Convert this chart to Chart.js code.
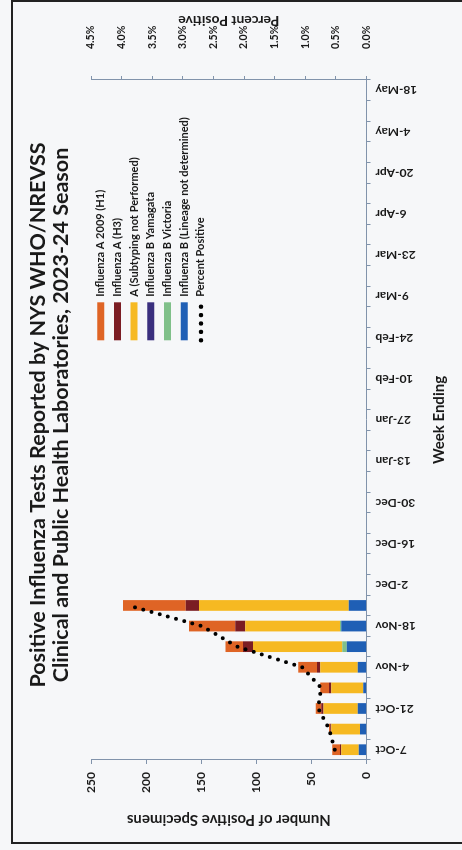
<!DOCTYPE html>
<html>
<head>
<meta charset="utf-8">
<script src="https://cdn.jsdelivr.net/npm/chart.js@4.4.1/dist/chart.umd.min.js"></script>
<style>
  html, body { margin: 0; padding: 0; width: 462px; height: 850px; overflow: hidden; background: #f6f7f9; }
  /* the landscape page is turned a quarter turn counter-clockwise */
  #page { position: absolute; left: 0; top: 0; width: 850px; height: 462px;
          transform-origin: 0 0; transform: translate(0px, 850px) rotate(-90deg); background: #f6f7f9; }
  #frame { position: absolute; left: 6px; top: 11px; width: 844px; height: 470px;
           border: 2px solid #222; box-sizing: border-box; }
  #chart { position: absolute; left: 0; top: 0; }
</style>
</head>
<body>
<div id="page">
  <div id="frame"></div>
  <canvas id="chart" width="850" height="462"></canvas>
</div>
<script>
// Week-ending dates, 2023-24 season
const weekLabels = ['7-Oct','14-Oct','21-Oct','28-Oct','4-Nov','11-Nov','18-Nov','25-Nov',
  '2-Dec','9-Dec','16-Dec','23-Dec','30-Dec','6-Jan','13-Jan','20-Jan','27-Jan',
  '3-Feb','10-Feb','17-Feb','24-Feb','2-Mar','9-Mar','16-Mar','23-Mar','30-Mar',
  '6-Apr','13-Apr','20-Apr','27-Apr','4-May','11-May','18-May'];

// Positive specimens per week (weeks reported so far)
const fluA_H1       = [7, 1, 5, 8, 17, 16, 42, 57];
const fluA_H3       = [1, 1, 2, 2, 3, 9, 9, 12];
const fluA_notTyped = [16, 26, 31, 29, 34, 81, 86, 136];
const fluB_Yamagata = [0, 0, 0, 0, 0, 0, 0, 0];
const fluB_Victoria = [0, 0, 0, 0, 0, 4, 1, 0];
const fluB_noLineage = [7, 6, 8, 3, 8, 18, 23, 16];
// Percent of specimens testing positive
const percentPositive = [0.52, 0.61, 0.79, 0.74, 1.05, 2.11, 2.69, 3.89];

// Axis ranges
const countMax = 250, countStep = 50;
const pctMax = 4.5, pctStep = 0.5;

const axisColor = '#8193ab';
const ink = '#1a1a1a';
const fam = 'Lato, "Open Sans", sans-serif';

const fill = arr => weekLabels.map((_, i) => (i < arr.length ? arr[i] : null));

// Draws the secondary axis title reading bottom-to-top
const sideTitle = {
  id: 'sideTitle',
  afterDraw(chart, args, opts) {
    const s = chart.scales.y2;
    const ctx = chart.ctx;
    ctx.save();
    ctx.font = 'bold ' + opts.size + 'px ' + fam;
    ctx.fillStyle = ink;
    ctx.textAlign = 'center';
    ctx.textBaseline = 'middle';
    ctx.translate(s.right - opts.offset, (s.top + s.bottom) / 2);
    ctx.rotate(-Math.PI / 2);
    ctx.fillText(opts.text, 0, 0);
    ctx.restore();
  }
};

// Moves the legend to its spot inside the plot area and nudges the title block
const placeLegend = {
  id: 'placeLegend',
  afterLayout(chart, args, opts) {
    const lg = chart.legend;
    const w = lg.width, h = lg.height;
    lg.left = chart.chartArea.left + opts.dx;
    lg.top = chart.chartArea.top + opts.dy;
    lg.right = lg.left + w;
    lg.bottom = lg.top + h;
    const tb = chart.titleBlock;
    tb.left += opts.titleShift;
    tb.right += opts.titleShift;
  }
};

Chart.defaults.font.family = fam;
Chart.defaults.font.weight = 'bold';
Chart.defaults.color = ink;

new Chart(document.getElementById('chart'), {
  type: 'bar',
  data: {
    labels: weekLabels,
    datasets: [
      { type: 'line', label: 'Percent Positive', data: fill(percentPositive), yAxisID: 'y2',
        borderColor: '#000', backgroundColor: '#000', borderWidth: 4,
        borderDash: [0, 8.5], borderCapStyle: 'round', pointRadius: 0, tension: 0 },
      { label: 'Influenza B (Lineage not determined)', data: fill(fluB_noLineage), backgroundColor: '#1f5fb5' },
      { label: 'Influenza B Victoria', data: fill(fluB_Victoria), backgroundColor: '#80c08a' },
      { label: 'Influenza B Yamagata', data: fill(fluB_Yamagata), backgroundColor: '#3a2f7e' },
      { label: 'A (Subtyping not Performed)', data: fill(fluA_notTyped), backgroundColor: '#f6b922' },
      { label: 'Influenza A (H3)', data: fill(fluA_H3), backgroundColor: '#7b1d23' },
      { label: 'Influenza A 2009 (H1)', data: fill(fluA_H1), backgroundColor: '#df6425' }
    ]
  },
  options: {
    responsive: false,
    animation: false,
    layout: { padding: 0 },
    datasets: { bar: { categoryPercentage: 1, barPercentage: 0.52, yAxisID: 'y' } },
    scales: {
      x: {
        stacked: true,
        grid: { offset: true, drawOnChartArea: false, tickLength: 4, color: axisColor },
        border: { color: axisColor, width: 1 },
        ticks: {
          autoSkip: false, minRotation: 90, maxRotation: 90, padding: 5,
          font: { size: 12 },
          callback: (v, i) => (i % 2 === 0 ? weekLabels[i] : '')
        },
        title: { display: true, text: 'Week Ending', font: { size: 15 }, padding: { top: 0, bottom: 14 } },
        afterFit: s => { s.height = 95.5; }
      },
      y: {
        position: 'left', stacked: true, min: 0, max: countMax,
        grid: { drawOnChartArea: false, tickLength: 4, color: axisColor },
        border: { color: axisColor, width: 1 },
        ticks: { stepSize: countStep, padding: 8, font: { size: 12 } },
        title: { display: true, text: 'Number of Positive Specimens', font: { size: 15 }, padding: { top: 21, bottom: 0 } },
        afterFit: s => { s.width = 90; }
      },
      y2: {
        position: 'right', min: 0, max: pctMax,
        grid: { drawOnChartArea: false, tickLength: 4, color: axisColor },
        border: { color: axisColor, width: 1 },
        ticks: { stepSize: pctStep, padding: 27, font: { size: 10.5 }, callback: v => v.toFixed(1) + '%' },
        afterFit: s => { s.width = 80; }
      }
    },
    plugins: {
      title: {
        display: true,
        text: ['Positive Influenza Tests Reported by NYS WHO/NREVSS',
               'Clinical and Public Health Laboratories, 2023-24 Season'],
        font: { size: 21.5, lineHeight: 1.07 },
        color: ink,
        padding: { top: 27, bottom: 18 }
      },
      legend: {
        position: 'chartArea',
        align: 'start',
        reverse: true,
        labels: {
          usePointStyle: true, pointStyleWidth: 38, boxHeight: 7, padding: 5.7,
          font: { size: 11 }, color: ink,
          generateLabels(chart) {
            const items = Chart.defaults.plugins.legend.labels.generateLabels(chart);
            items.forEach(it => {
              const ds = chart.data.datasets[it.datasetIndex];
              if (ds.type === 'line') {
                Object.assign(it, { pointStyle: 'line', lineWidth: 4.5, lineDash: [0, 8.4],
                  lineCap: 'round', strokeStyle: '#000', fillStyle: '#000' });
              } else {
                Object.assign(it, { pointStyle: 'rect', lineWidth: 0 });
              }
            });
            return items;
          }
        }
      },
      placeLegend: { dx: 414, dy: -1.5, titleShift: 10 },
      sideTitle: { text: 'Percent Positive', size: 14, offset: 21 },
      tooltip: { enabled: false }
    }
  },
  plugins: [placeLegend, sideTitle]
});
</script>
</body>
</html>
